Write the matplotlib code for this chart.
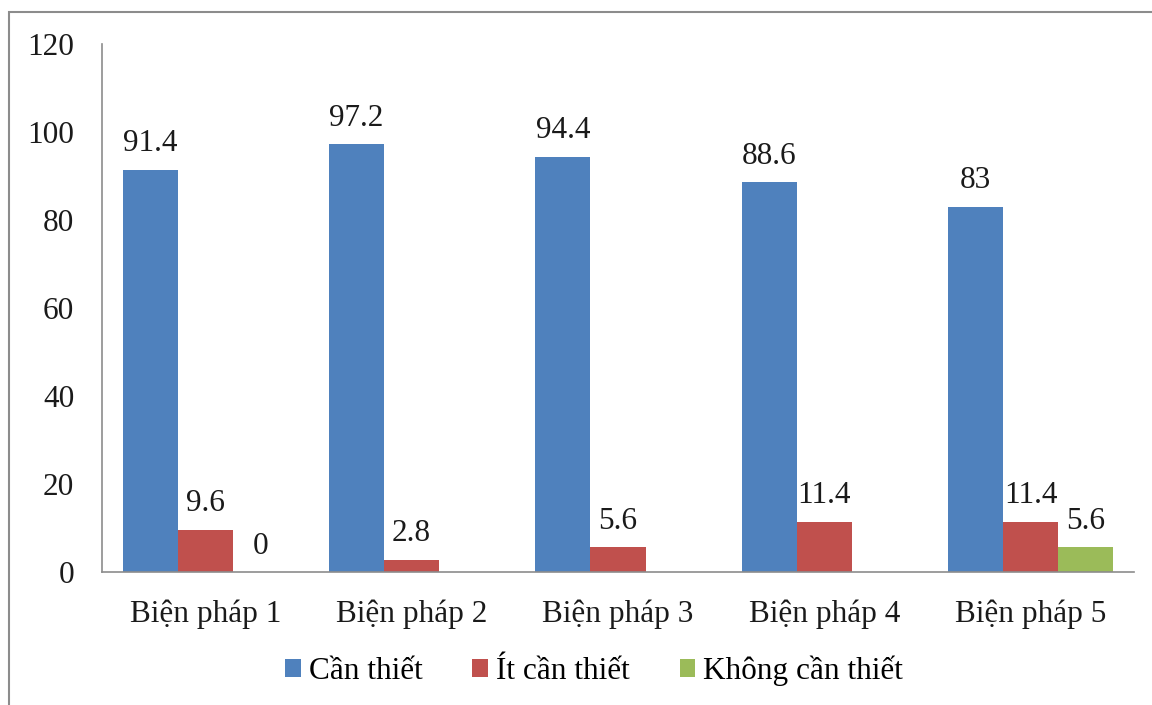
import numpy as np
import matplotlib.pyplot as plt
from matplotlib.patches import Rectangle

categories = ["Biện pháp 1", "Biện pháp 2", "Biện pháp 3", "Biện pháp 4", "Biện pháp 5"]
can_thiet = [91.4, 97.2, 94.4, 88.6, 83]
it_can_thiet = [9.6, 2.8, 5.6, 11.4, 11.4]
khong_can_thiet = [0, None, None, None, 5.6]

series = [
    ("Cần thiết", can_thiet, "#4F81BD"),
    ("Ít cần thiết", it_can_thiet, "#C0504D"),
    ("Không cần thiết", khong_can_thiet, "#9BBB59"),
]

plt.rcParams['font.family'] = ['Liberation Serif', 'DejaVu Serif']
FS = 22.5

fig = plt.figure(figsize=(11.52, 7.05), dpi=100)
ax = fig.add_axes([102 / 1152, 1 - 572 / 705, (1134 - 102) / 1152, (572 - 44) / 705])

# outer chart frame (open on the right and bottom edges)
fig.patches.append(Rectangle((9 / 1152, -0.05), 1.2, 1 - 12 / 705 + 0.05,
                             transform=fig.transFigure, fill=False,
                             edgecolor="#8c8c8c", linewidth=1.5))

x = np.arange(len(categories))
width = 0.267
for i, (name, vals, color) in enumerate(series):
    offs = (i - 1) * width
    xs = [xi + offs for xi, v in zip(x, vals) if v is not None]
    vs = [v for v in vals if v is not None]
    bars = ax.bar(xs, vs, width=width, color=color, label=name)
    for b, v in zip(bars, vs):
        ax.text(b.get_x() + b.get_width() / 2, v + 2.6, f"{v:g}",
                ha="center", va="bottom", fontsize=FS, color="#1a1a1a")

ax.set_xlim(-0.5, len(categories) - 0.5)
ax.set_ylim(0, 120)
ax.set_yticks(range(0, 121, 20))
ax.set_xticks(x)
ax.set_xticklabels(categories)
ax.tick_params(axis="both", length=0, labelsize=FS, colors="#1a1a1a")
ax.tick_params(axis="y", pad=20)
ax.tick_params(axis="x", pad=20)

for side in ["top", "right"]:
    ax.spines[side].set_visible(False)
for side in ["left", "bottom"]:
    ax.spines[side].set_color("#8c8c8c")
    ax.spines[side].set_linewidth(1.2)

fig.legend(loc="center", bbox_to_anchor=(594 / 1152, 1 - 671 / 705), ncol=3,
           frameon=False, fontsize=FS, handlelength=0.5, handleheight=0.5,
           handletextpad=0.25, columnspacing=1.6)

fig.savefig("out.png", dpi=100)
